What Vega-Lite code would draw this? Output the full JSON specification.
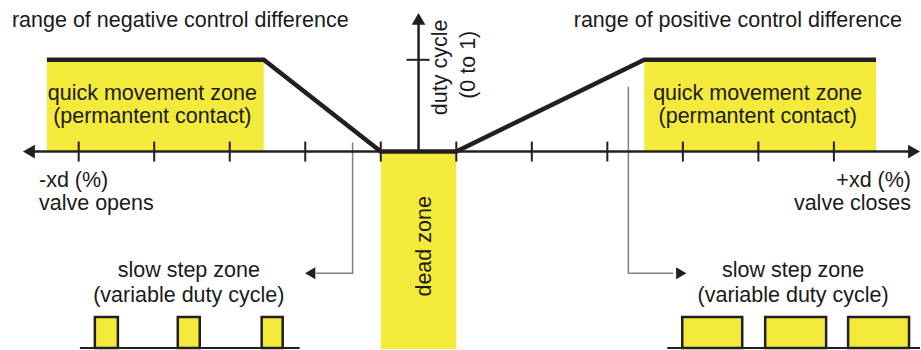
{
  "$schema": "https://vega.github.io/schema/vega-lite/v6.json",
  "width": 921,
  "height": 350,
  "autosize": {"type": "fit", "contains": "padding"},
  "padding": 0,
  "background": "white",
  "config": {"view": {"stroke": null}},
  "datasets": {
    "zones": [
      {"x": -4.921, "x2": -2.050, "y": 0, "y2": 1},
      {"x": 2.989, "x2": 6.058, "y": 0, "y2": 1},
      {"x": -0.5, "x2": 0.5, "y": -2.2, "y2": 0}
    ],
    "pulses": [
      {"x": -4.286, "x2": -3.981, "y": -2.141, "y2": -1.804},
      {"x": -3.188, "x2": -2.897, "y": -2.141, "y2": -1.804},
      {"x": -2.077, "x2": -1.799, "y": -2.141, "y2": -1.804},
      {"x": 3.492, "x2": 4.286, "y": -2.141, "y2": -1.804},
      {"x": 4.590, "x2": 5.397, "y": -2.141, "y2": -1.804},
      {"x": 5.688, "x2": 6.495, "y": -2.141, "y2": -1.804}
    ],
    "baselines": [
      {"x": -4.484, "x2": -1.574, "y": -2.141, "y2": -2.141},
      {"x": 3.294, "x2": 6.64, "y": -2.141, "y2": -2.141}
    ],
    "axes": [
      {"x": -5.146, "x2": 6.521, "y": 0, "y2": 0},
      {"x": 0, "x2": 0, "y": 0, "y2": 1.39}
    ],
    "ticks": [
      {"x": -4.5, "x2": -4.5, "y": -0.109, "y2": 0.109},
      {"x": -3.5, "x2": -3.5, "y": -0.109, "y2": 0.109},
      {"x": -2.5, "x2": -2.5, "y": -0.109, "y2": 0.109},
      {"x": -1.5, "x2": -1.5, "y": -0.109, "y2": 0.109},
      {"x": -0.5, "x2": -0.5, "y": -0.109, "y2": 0.109},
      {"x": 0.5, "x2": 0.5, "y": -0.109, "y2": 0.109},
      {"x": 1.5, "x2": 1.5, "y": -0.109, "y2": 0.109},
      {"x": 2.5, "x2": 2.5, "y": -0.109, "y2": 0.109},
      {"x": 3.5, "x2": 3.5, "y": -0.109, "y2": 0.109},
      {"x": 4.5, "x2": 4.5, "y": -0.109, "y2": 0.109},
      {"x": 5.5, "x2": 5.5, "y": -0.109, "y2": 0.109},
      {"x": -0.159, "x2": 0.146, "y": 1, "y2": 1}
    ],
    "curve": [
      {"o": 1, "x": -4.921, "y": 1},
      {"o": 2, "x": -2.050, "y": 1},
      {"o": 3, "x": -0.5, "y": 0},
      {"o": 4, "x": 0.5, "y": 0},
      {"o": 5, "x": 2.989, "y": 1},
      {"o": 6, "x": 6.058, "y": 1}
    ],
    "pointers": [
      {"g": "left", "o": 1, "x": -0.873, "y": 0.098},
      {"g": "left", "o": 2, "x": -0.873, "y": -1.326},
      {"g": "left", "o": 3, "x": -1.362, "y": -1.326},
      {"g": "right", "o": 1, "x": 2.778, "y": 0.707},
      {"g": "right", "o": 2, "x": 2.778, "y": -1.326},
      {"g": "right", "o": 3, "x": 3.37, "y": -1.326}
    ],
    "axisHeads": [
      {"x": -5.159, "y": 0, "shape": "triangle-left"},
      {"x": 6.561, "y": 0, "shape": "triangle-right"},
      {"x": 0, "y": 1.446, "shape": "triangle-up"}
    ],
    "pointerHeads": [
      {"x": -1.435, "y": -1.326, "shape": "triangle-left"},
      {"x": 3.479, "y": -1.326, "shape": "triangle-right"}
    ],
    "textLeft": [
      {"x": -5.384, "y": 1.359, "text": "range of negative control difference"},
      {"x": -5.026, "y": -0.391, "text": "-xd (%)"},
      {"x": -5.026, "y": -0.641, "text": "valve opens"}
    ],
    "textRight": [
      {"x": 6.402, "y": 1.359, "text": "range of positive control difference"},
      {"x": 6.521, "y": -0.391, "text": "+xd (%)"},
      {"x": 6.521, "y": -0.641, "text": "valve closes"}
    ],
    "textCenter": [
      {"x": -3.525, "y": 0.565, "text": "quick movement zone"},
      {"x": -3.525, "y": 0.315, "text": "(permantent contact)"},
      {"x": 4.491, "y": 0.565, "text": "quick movement zone"},
      {"x": 4.491, "y": 0.315, "text": "(permantent contact)"},
      {"x": -3.042, "y": -1.37, "text": "slow step zone"},
      {"x": -3.042, "y": -1.641, "text": "(variable duty cycle)"},
      {"x": 4.960, "y": -1.37, "text": "slow step zone"},
      {"x": 4.960, "y": -1.641, "text": "(variable duty cycle)"}
    ],
    "textVertical": [
      {"x": 0.298, "y": 0.918, "text": "duty cycle"},
      {"x": 0.668, "y": 0.946, "text": "(0 to 1)"},
      {"x": 0.086, "y": -1.033, "text": "dead zone"}
    ]
  },
  "encoding": {
    "x": {"field": "x", "type": "quantitative", "scale": {"domain": [-5.542, 6.640], "nice": false, "zero": false}, "axis": null},
    "y": {"field": "y", "type": "quantitative", "scale": {"domain": [-2.152, 1.652], "nice": false, "zero": false}, "axis": null}
  },
  "layer": [
    {
      "data": {"name": "zones"},
      "mark": {"type": "rect", "color": "#f4ea3b", "clip": true},
      "encoding": {"x2": {"field": "x2"}, "y2": {"field": "y2"}}
    },
    {
      "data": {"name": "baselines"},
      "mark": {"type": "rule", "color": "#231f20", "strokeWidth": 2},
      "encoding": {"x2": {"field": "x2"}, "y2": {"field": "y2"}}
    },
    {
      "data": {"name": "pulses"},
      "mark": {"type": "rect", "fill": "#f4ea3b", "stroke": "#231f20", "strokeWidth": 2.5},
      "encoding": {"x2": {"field": "x2"}, "y2": {"field": "y2"}}
    },
    {
      "data": {"name": "pointers"},
      "mark": {"type": "line", "color": "#808080", "strokeWidth": 1.5},
      "encoding": {"detail": {"field": "g"}, "order": {"field": "o"}}
    },
    {
      "data": {"name": "pointerHeads"},
      "mark": {"type": "point", "filled": true, "color": "#231f20", "size": 140, "opacity": 1},
      "encoding": {"shape": {"field": "shape", "type": "nominal", "scale": null}}
    },
    {
      "data": {"name": "axes"},
      "mark": {"type": "rule", "color": "#231f20", "strokeWidth": 2.5},
      "encoding": {"x2": {"field": "x2"}, "y2": {"field": "y2"}}
    },
    {
      "data": {"name": "ticks"},
      "mark": {"type": "rule", "color": "#231f20", "strokeWidth": 2},
      "encoding": {"x2": {"field": "x2"}, "y2": {"field": "y2"}}
    },
    {
      "data": {"name": "axisHeads"},
      "mark": {"type": "point", "filled": true, "color": "#231f20", "size": 190, "opacity": 1},
      "encoding": {"shape": {"field": "shape", "type": "nominal", "scale": null}}
    },
    {
      "data": {"name": "curve"},
      "mark": {"type": "line", "color": "#231f20", "strokeWidth": 4.5, "strokeJoin": "miter"},
      "encoding": {"order": {"field": "o"}}
    },
    {
      "data": {"name": "textLeft"},
      "mark": {"type": "text", "align": "left", "baseline": "alphabetic", "font": "Liberation Sans", "fontSize": 21.5, "color": "#1a1a1a"},
      "encoding": {"text": {"field": "text"}}
    },
    {
      "data": {"name": "textRight"},
      "mark": {"type": "text", "align": "right", "baseline": "alphabetic", "font": "Liberation Sans", "fontSize": 21.5, "color": "#1a1a1a"},
      "encoding": {"text": {"field": "text"}}
    },
    {
      "data": {"name": "textCenter"},
      "mark": {"type": "text", "align": "center", "baseline": "alphabetic", "font": "Liberation Sans", "fontSize": 21.5, "color": "#1a1a1a"},
      "encoding": {"text": {"field": "text"}}
    },
    {
      "data": {"name": "textVertical"},
      "mark": {"type": "text", "align": "center", "baseline": "middle", "angle": 270, "font": "Liberation Sans", "fontSize": 21.5, "color": "#1a1a1a"},
      "encoding": {"text": {"field": "text"}}
    }
  ]
}
